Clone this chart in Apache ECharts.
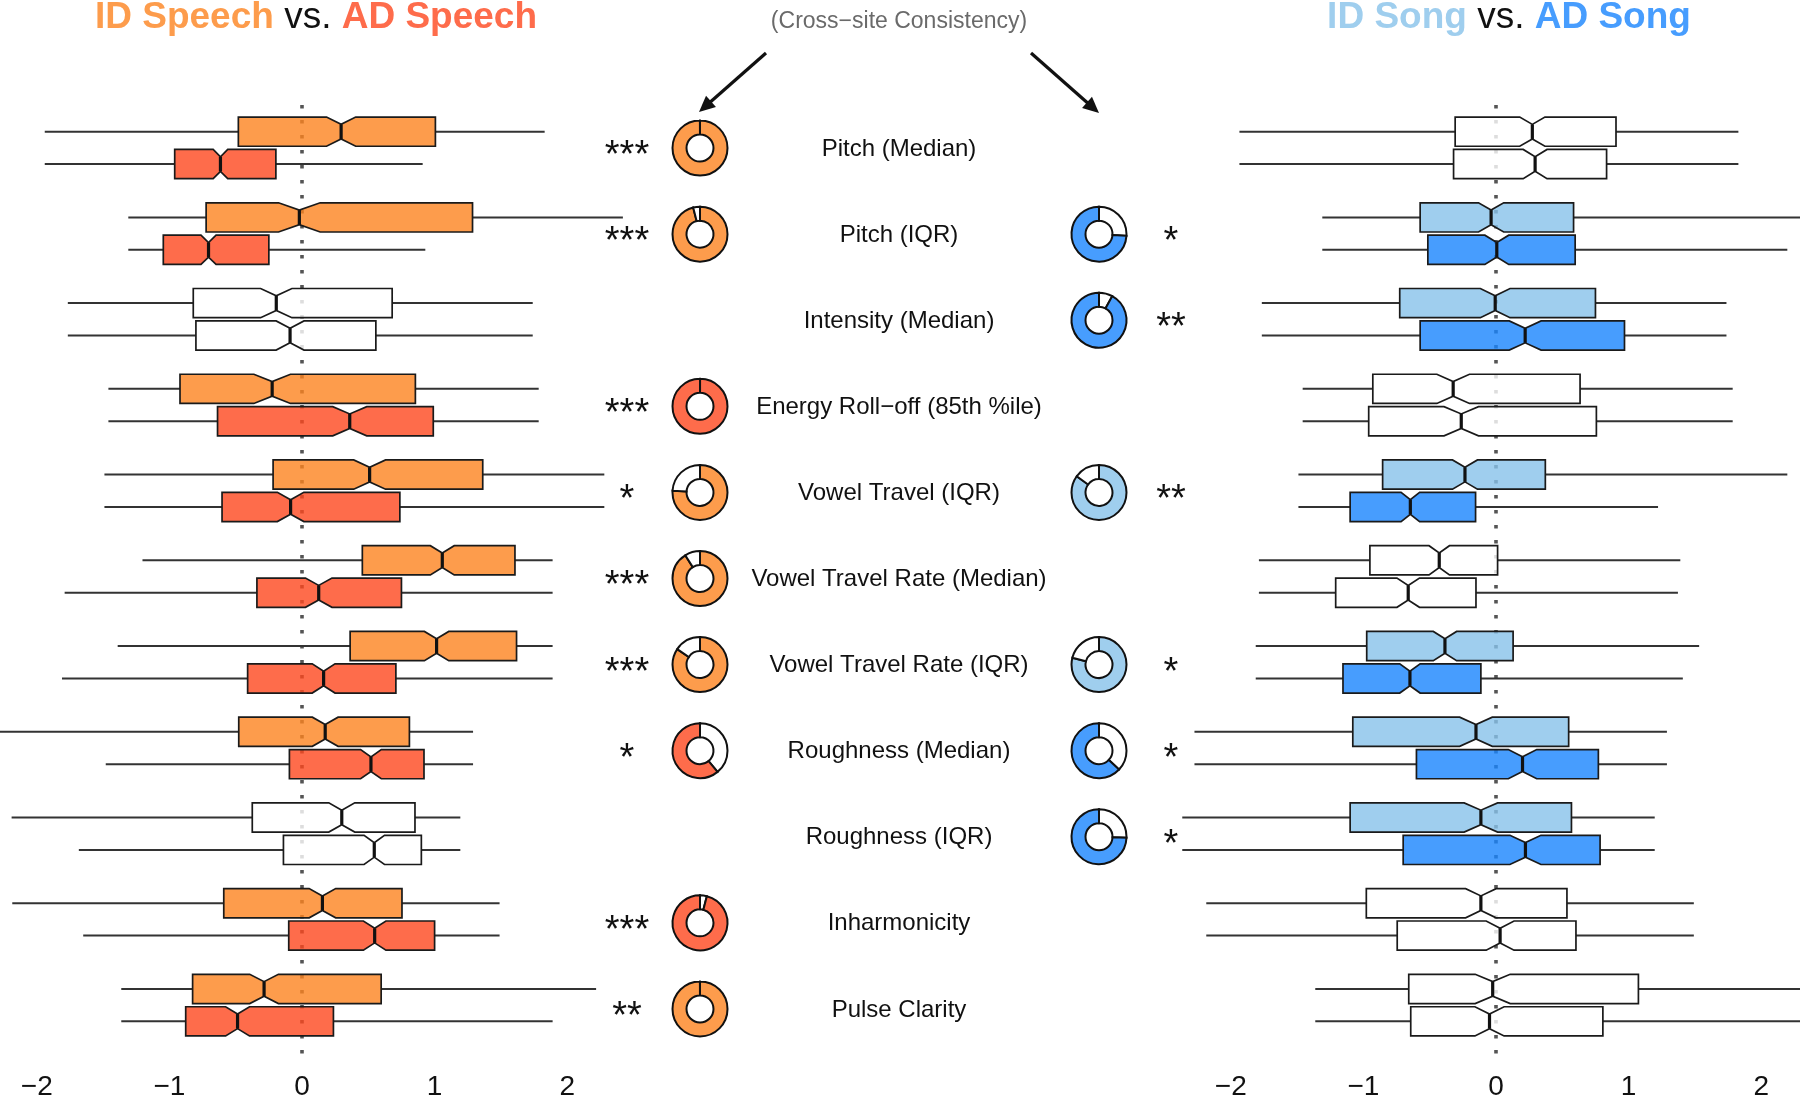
<!DOCTYPE html>
<html><head><meta charset="utf-8">
<script src="https://cdn.jsdelivr.net/npm/echarts@6/dist/echarts.min.js"></script>
<style>html,body{margin:0;padding:0;background:#fff;}#chart{width:1800px;height:1101px;}</style>
</head><body><div id="chart"></div>
<script>
// ---------------- DATA ----------------
const features = ['Pitch (Median)','Pitch (IQR)','Intensity (Median)','Energy Roll\u2212off (85th %ile)','Vowel Travel (IQR)','Vowel Travel Rate (Median)','Vowel Travel Rate (IQR)','Roughness (Median)','Roughness (IQR)','Inharmonicity','Pulse Clarity'];
const tickValues = [-2, -1, 0, 1, 2];
// each row: [whiskerLow, Q1, median, Q3, whiskerHigh, notchHalfWidth]
const idSpeech = [
  [-1.94,-0.48,0.295,1.006,1.83,0.11],
  [-1.31,-0.723,-0.02,1.286,2.42,0.157],
  [-1.766,-0.82,-0.194,0.68,1.74,0.118],
  [-1.46,-0.92,-0.225,0.855,1.785,0.138],
  [-1.49,-0.218,0.51,1.363,2.28,0.12],
  [-1.203,0.455,1.058,1.606,1.89,0.09],
  [-1.39,0.363,1.015,1.618,1.89,0.092],
  [-2.4,-0.477,0.175,0.81,1.29,0.097],
  [-2.19,-0.375,0.30,0.852,1.194,0.098],
  [-2.185,-0.59,0.154,0.754,1.49,0.10],
  [-1.363,-0.825,-0.286,0.597,2.218,0.108]
];
const adSpeech = [
  [-1.94,-0.96,-0.615,-0.197,0.91,0.055],
  [-1.31,-1.046,-0.705,-0.25,0.93,0.057],
  [-1.766,-0.80,-0.09,0.557,1.74,0.105],
  [-1.46,-0.637,0.36,0.99,1.785,0.128],
  [-1.49,-0.603,-0.086,0.738,2.28,0.10],
  [-1.79,-0.34,0.126,0.75,1.89,0.10],
  [-1.81,-0.41,0.163,0.708,1.89,0.086],
  [-1.48,-0.095,0.52,0.92,1.29,0.078],
  [-1.683,-0.14,0.545,0.90,1.194,0.077],
  [-1.65,-0.10,0.548,1.0,1.49,0.085],
  [-1.363,-0.877,-0.486,0.237,1.89,0.09]
];
const idSong = [
  [-1.935,-0.308,0.274,0.905,1.828,0.095],
  [-1.31,-0.572,-0.037,0.585,2.4,0.095],
  [-1.766,-0.726,-0.006,0.75,1.738,0.112],
  [-1.458,-0.929,-0.323,0.634,1.785,0.123],
  [-1.49,-0.855,-0.234,0.372,2.197,0.094],
  [-1.788,-0.951,-0.428,0.012,1.39,0.077],
  [-1.812,-0.975,-0.385,0.129,1.532,0.088],
  [-2.274,-1.08,-0.151,0.548,1.289,0.123],
  [-2.366,-1.10,-0.114,0.569,1.197,0.126],
  [-2.185,-0.978,-0.114,0.535,1.492,0.115],
  [-1.363,-0.658,-0.025,1.074,2.4,0.132]
];
const adSong = [
  [-1.935,-0.32,0.295,0.834,1.828,0.09],
  [-1.31,-0.514,0.006,0.597,2.197,0.09],
  [-1.766,-0.572,0.22,0.969,1.738,0.12],
  [-1.458,-0.96,-0.262,0.757,1.785,0.13],
  [-1.49,-1.10,-0.646,-0.154,1.222,0.07],
  [-1.788,-1.209,-0.662,-0.151,1.372,0.085],
  [-1.812,-1.154,-0.649,-0.114,1.409,0.077],
  [-2.274,-0.60,0.20,0.772,1.289,0.107],
  [-2.366,-0.70,0.222,0.785,1.197,0.117],
  [-2.185,-0.745,0.031,0.603,1.492,0.105],
  [-1.363,-0.643,-0.049,0.806,2.4,0.11]
];
const speechSignificant = [1,1,0,1,1,1,1,1,0,1,1];
const songSignificant   = [0,1,1,0,1,0,1,1,1,0,0];
const speechStars = ['***','***','','***','*','***','***','*','','***','**'];
const songStars   = ['','*','**','','**','','*','*','*','',''];
// cross-site consistency: share of sites, and direction (ID or AD higher)
const speechConsistency = [1.0,0.96,null,1.0,0.76,0.91,0.845,0.61,null,0.96,1.0];
const speechDirection   = ['ID','ID',null,'AD','ID','ID','ID','AD',null,'AD','ID'];
const songConsistency   = [null,0.74,0.92,null,0.85,null,0.79,0.63,0.745,null,null];
const songDirection     = [null,'AD','AD',null,'ID',null,'ID','AD','AD',null,null];

// ---------------- STYLE ----------------
const FONT = '"Liberation Sans", Arial, Helvetica, sans-serif';
const C = {
  idSpeech: '#FD9C4C', adSpeech: '#FE6C4B', idSong: '#9FCEEE', adSong: '#479DFE'
};
const FILL = {
  idSpeech: 'rgba(252,131,31,0.8)', adSpeech: 'rgba(254,71,30,0.8)',
  idSong: 'rgba(135,194,234,0.8)', adSong: 'rgba(25,132,254,0.8)', none: 'rgba(255,255,255,0.8)'
};
const BOX_HALF = 14.6, PAIR_OFF = 16.2;

const chart = echarts.init(document.getElementById('chart'), null, {renderer: 'canvas'});

function boxSeries(axis, data, offset, fill, sig) {
  return {
    type: 'custom', xAxisIndex: axis, yAxisIndex: axis, z: 3,
    data: data.map((d, i) => [i].concat(d).concat([sig[i]])),
    renderItem: function (params, api) {
      const row = api.value(0);
      const lo = api.value(1), q1 = api.value(2), med = api.value(3), q3 = api.value(4), hi = api.value(5), n = api.value(6), s = api.value(7);
      const yc = api.coord([0, row])[1] + offset;
      const X = v => api.coord([v, row])[0];
      const top = yc - BOX_HALF, bot = yc + BOX_HALF, d = BOX_HALF * 0.5;
      const pts = [[X(q1),top],[X(med-n),top],[X(med),top+d],[X(med+n),top],[X(q3),top],
                   [X(q3),bot],[X(med+n),bot],[X(med),bot-d],[X(med-n),bot],[X(q1),bot]];
      return {type: 'group', children: [
        {type: 'line', shape: {x1: X(lo), y1: yc, x2: X(q1), y2: yc}, style: {stroke: '#333', lineWidth: 2}},
        {type: 'line', shape: {x1: X(q3), y1: yc, x2: X(hi), y2: yc}, style: {stroke: '#333', lineWidth: 2}},
        {type: 'polygon', shape: {points: pts}, style: {fill: s ? fill : FILL.none, stroke: '#1a1a1a', lineWidth: 1.7}},
        {type: 'line', shape: {x1: X(med), y1: top + d, x2: X(med), y2: bot - d}, style: {stroke: '#111', lineWidth: 3.2}}
      ]};
    }
  };
}
function zeroLine(axis) {
  return {
    type: 'custom', xAxisIndex: axis, yAxisIndex: axis, z: 1, data: [[0, 0]],
    renderItem: function (params, api) {
      const a = api.coord([0, -0.5]), b = api.coord([0, 10.6]);
      return {type: 'line', shape: {x1: a[0], y1: a[1], x2: b[0], y2: b[1]},
              style: {stroke: '#555', lineWidth: 3.6, lineDash: [3.6, 11.4]}};
    }
  };
}
const R_OUT = 27.5, R_IN = 13.5;
function donut(cx, cy, p, dir, idCol, adCol) {
  const col = dir === 'ID' ? idCol : adCol;
  const st = -Math.PI / 2, full = Math.PI * 2;
  const pp = Math.min(p, 0.9995);
  const segs = dir === 'ID'
    ? [[st, st + full * pp, col], [st + full * pp, st + full, '#fff']]
    : [[st, st + full * (1 - pp), '#fff'], [st + full * (1 - pp), st + full, col]];
  return segs.filter(s => s[1] - s[0] > 0.01).map(s => ({
    type: 'sector',
    shape: {cx: cx, cy: cy, r: R_OUT, r0: R_IN, startAngle: s[0], endAngle: s[1], clockwise: true},
    style: {fill: s[2], stroke: '#111', lineWidth: 2}
  }));
}
const COL = {starsL: 27, donutL: 100, label: 299, donutR: 499, starsR: 571};
const starStyle = (text, x, y) => ({type: 'text', style: {text: text, x: x, y: y + 8.5, fill: '#111',
  fontSize: 38, fontFamily: FONT, align: 'center', verticalAlign: 'middle', textAlign: 'center', textVerticalAlign: 'middle'}});
const centerSeries = {
  type: 'custom', xAxisIndex: 2, yAxisIndex: 2, z: 4,
  data: features.map((f, i) => [i]),
  renderItem: function (params, api) {
    const i = params.dataIndex;
    const P = c => api.coord([c, i]);
    const ch = [];
    const lab = P(COL.label);
    ch.push({type: 'text', style: {text: features[i], x: lab[0], y: lab[1] + 1, fill: '#111',
      fontSize: 24, fontFamily: FONT, align: 'center', verticalAlign: 'middle', textAlign: 'center', textVerticalAlign: 'middle'}});
    if (speechConsistency[i] != null) {
      const q = P(COL.donutL);
      donut(q[0], q[1], speechConsistency[i], speechDirection[i], C.idSpeech, C.adSpeech).forEach(e => ch.push(e));
    }
    if (songConsistency[i] != null) {
      const q = P(COL.donutR);
      donut(q[0], q[1], songConsistency[i], songDirection[i], C.idSong, C.adSong).forEach(e => ch.push(e));
    }
    if (speechStars[i]) { const q = P(COL.starsL); ch.push(starStyle(speechStars[i], q[0], q[1])); }
    if (songStars[i]) { const q = P(COL.starsR); ch.push(starStyle(songStars[i], q[0], q[1])); }
    return {type: 'group', children: ch};
  }
};

const GRID_TOP = 105, GRID_H = 947;
const PX_PER_UNIT = 132.6;
const xLabel = {
  show: true, customValues: tickValues, fontSize: 28, color: '#111', fontFamily: FONT, margin: 25,
  formatter: v => String(v).replace('-', '\u2212')
};
const yAx = i => ({type: 'value', gridIndex: i, inverse: true, min: -0.5, max: 10.5, show: false});

function arrow(x1, y1, x2, y2) {
  const dx = x2 - x1, dy = y2 - y1, L = Math.hypot(dx, dy), ux = dx / L, uy = dy / L;
  const hl = 16, hw = 7.5;
  const bx = x2 - ux * hl, by = y2 - uy * hl;
  return [
    {type: 'line', shape: {x1: x1, y1: y1, x2: bx + ux * 2, y2: by + uy * 2}, style: {stroke: '#111', lineWidth: 3.2}},
    {type: 'polygon', shape: {points: [[x2, y2], [bx - uy * hw, by + ux * hw], [bx + uy * hw, by - ux * hw]]}, style: {fill: '#111'}}
  ];
}
const titleRich = (c1, c2) => ({
  a: {fontSize: 37, fontWeight: 'bold', fill: c1, fontFamily: FONT},
  b: {fontSize: 37, fontWeight: 'normal', fill: '#111', fontFamily: FONT},
  c: {fontSize: 37, fontWeight: 'bold', fill: c2, fontFamily: FONT}
});

const option = {
  backgroundColor: '#fff',
  animation: false,
  grid: [
    {left: 0, top: GRID_TOP, width: 633.5, height: GRID_H},
    {left: 1180, top: GRID_TOP, width: 620, height: GRID_H},
    {left: 600, top: GRID_TOP, width: 600, height: GRID_H}
  ],
  xAxis: [
    {type: 'value', gridIndex: 0, min: -302 / PX_PER_UNIT, max: (633.5 - 302) / PX_PER_UNIT,
     axisLabel: xLabel, axisTick: {show: false}, axisLine: {show: false}, splitLine: {show: false}},
    {type: 'value', gridIndex: 1, min: -(1496 - 1180) / PX_PER_UNIT, max: (1800 - 1496) / PX_PER_UNIT,
     axisLabel: xLabel, axisTick: {show: false}, axisLine: {show: false}, splitLine: {show: false}},
    {type: 'value', gridIndex: 2, min: 0, max: 600, show: false}
  ],
  yAxis: [yAx(0), yAx(1), yAx(2)],
  graphic: [
    {type: 'text', style: {text: '{a|ID Speech} {b|vs.} {c|AD Speech}', rich: titleRich(C.idSpeech, C.adSpeech),
      x: 316, y: 18, align: 'center', verticalAlign: 'middle', fontSize: 37, fontFamily: FONT}},
    {type: 'text', style: {text: '{a|ID Song} {b|vs.} {c|AD Song}', rich: titleRich(C.idSong, C.adSong),
      x: 1509, y: 18, align: 'center', verticalAlign: 'middle', fontSize: 37, fontFamily: FONT}},
    {type: 'text', style: {text: '(Cross\u2212site Consistency)', x: 899, y: 22, fill: '#6a6a6a',
      fontSize: 23, fontFamily: FONT, align: 'center', verticalAlign: 'middle'}}
  ].concat(arrow(766, 53, 699, 112)).concat(arrow(1031, 53, 1099, 113)),
  series: [
    zeroLine(0), zeroLine(1),
    boxSeries(0, idSpeech, -PAIR_OFF, FILL.idSpeech, speechSignificant),
    boxSeries(0, adSpeech, PAIR_OFF, FILL.adSpeech, speechSignificant),
    boxSeries(1, idSong, -PAIR_OFF, FILL.idSong, songSignificant),
    boxSeries(1, adSong, PAIR_OFF, FILL.adSong, songSignificant),
    centerSeries
  ]
};
chart.setOption(option);
</script></body></html>
